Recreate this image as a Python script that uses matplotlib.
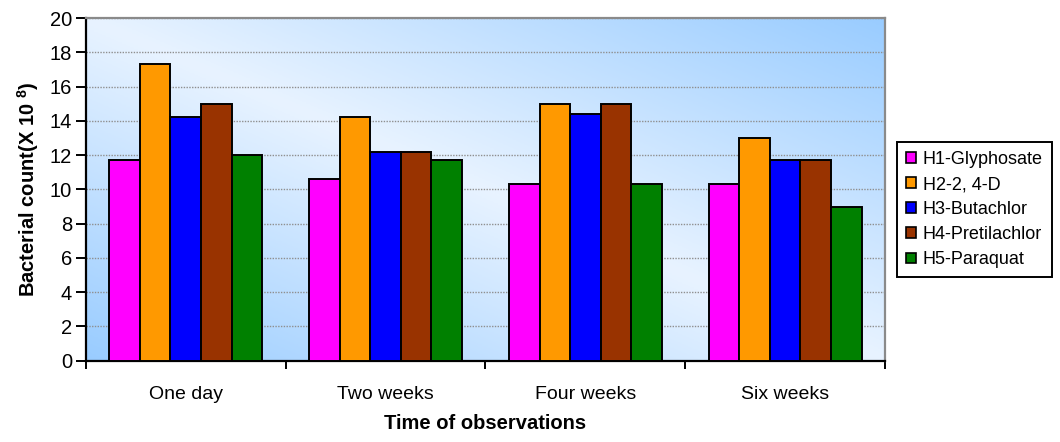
"""
Bacterial count under herbicide treatments over time
"""

import numpy as np
import matplotlib.pyplot as plt
from matplotlib.colors import LinearSegmentedColormap
from matplotlib.patches import Patch

plt.rcParams["font.family"] = ["Liberation Sans", "DejaVu Sans"]
plt.rcParams["mathtext.fontset"] = "custom"
plt.rcParams["mathtext.rm"] = "Liberation Sans:bold"
plt.rcParams["mathtext.bf"] = "Liberation Sans:bold"

# Observation periods and herbicide treatments
periods = ["One day", "Two weeks", "Four weeks", "Six weeks"]
treatments = ["H1-Glyphosate", "H2-2, 4-D", "H3-Butachlor", "H4-Pretilachlor", "H5-Paraquat"]

# Bacterial count (x 10^8) per treatment, one value per period
h1_glyphosate = [11.7, 10.6, 10.3, 10.3]
h2_24d = [17.3, 14.2, 15.0, 13.0]
h3_butachlor = [14.2, 12.2, 14.4, 11.7]
h4_pretilachlor = [15.0, 12.2, 15.0, 11.7]
h5_paraquat = [12.0, 11.7, 10.3, 9.0]

series = [h1_glyphosate, h2_24d, h3_butachlor, h4_pretilachlor, h5_paraquat]
colors = ["#FF00FF", "#FF9900", "#0000FF", "#993300", "#008000"]

fig = plt.figure(figsize=(10.6, 4.42), dpi=100)
ax = fig.add_axes([0.081, 0.184, 0.754, 0.775])

# Light blue gradient backdrop: darker toward bottom-left and top-right corners
nx, ny = 400, 200
u = np.linspace(0, 1, nx)[None, :]
v = np.linspace(0, 1, ny)[:, None]
t = np.abs((u + v) - 1.0)
grad = LinearSegmentedColormap.from_list("bg", ["#E8F3FF", "#99CCFF"])
ax.imshow(t, cmap=grad, extent=[-0.5, 3.5, 0, 20], origin="lower",
          aspect="auto", zorder=0, vmin=0, vmax=1)

x = np.arange(len(periods))
width = 0.153
for i, (vals, c) in enumerate(zip(series, colors)):
    ax.bar(x + (i - 2) * width, vals, width, color=c, edgecolor="black",
           linewidth=1.4, zorder=3)

ax.set_xlim(-0.5, 3.5)
ax.set_ylim(0, 20)
ax.set_yticks(np.arange(0, 21, 2))
ax.yaxis.grid(True, color="#8f8f8f", linestyle=(0, (1, 1)), linewidth=1.0, zorder=1)
ax.set_axisbelow(True)

# Category boundaries as major ticks, names centred as minor ticks
ax.set_xticks(np.arange(-0.5, 4, 1))
ax.set_xticklabels([])
ax.set_xticks(x, minor=True)
ax.set_xticklabels(periods, minor=True, fontsize=14)
ax.tick_params(axis="x", which="minor", length=0, pad=18)
ax.tick_params(axis="x", which="major", length=6, width=1.4, direction="out")
ax.tick_params(axis="y", length=7, width=1.4, direction="out", labelsize=14.5, pad=3)

for side in ["left", "bottom"]:
    ax.spines[side].set_linewidth(1.6)
    ax.spines[side].set_color("black")
for side in ["top", "right"]:
    ax.spines[side].set_linewidth(1.6)
    ax.spines[side].set_color("#8a8a8a")

ax.set_xlabel("Time of observations", fontsize=14.5, fontweight="bold", labelpad=8)
ax.set_ylabel("Bacterial count(X 10 $^{8}$)", fontsize=14.5, fontweight="bold", labelpad=6)

handles = [Patch(facecolor=c, edgecolor="black", linewidth=1.2) for c in colors]
leg = fig.legend(handles, treatments, loc="upper left", bbox_to_anchor=(0.846, 0.679),
                 frameon=True, fancybox=False, framealpha=1, edgecolor="black",
                 fontsize=13, handlelength=0.55, handleheight=0.55, handletextpad=0.4,
                 labelspacing=0.45, borderpad=0.5, borderaxespad=0)
leg.get_frame().set_linewidth(1.4)

fig.savefig("out.png", dpi=100)
